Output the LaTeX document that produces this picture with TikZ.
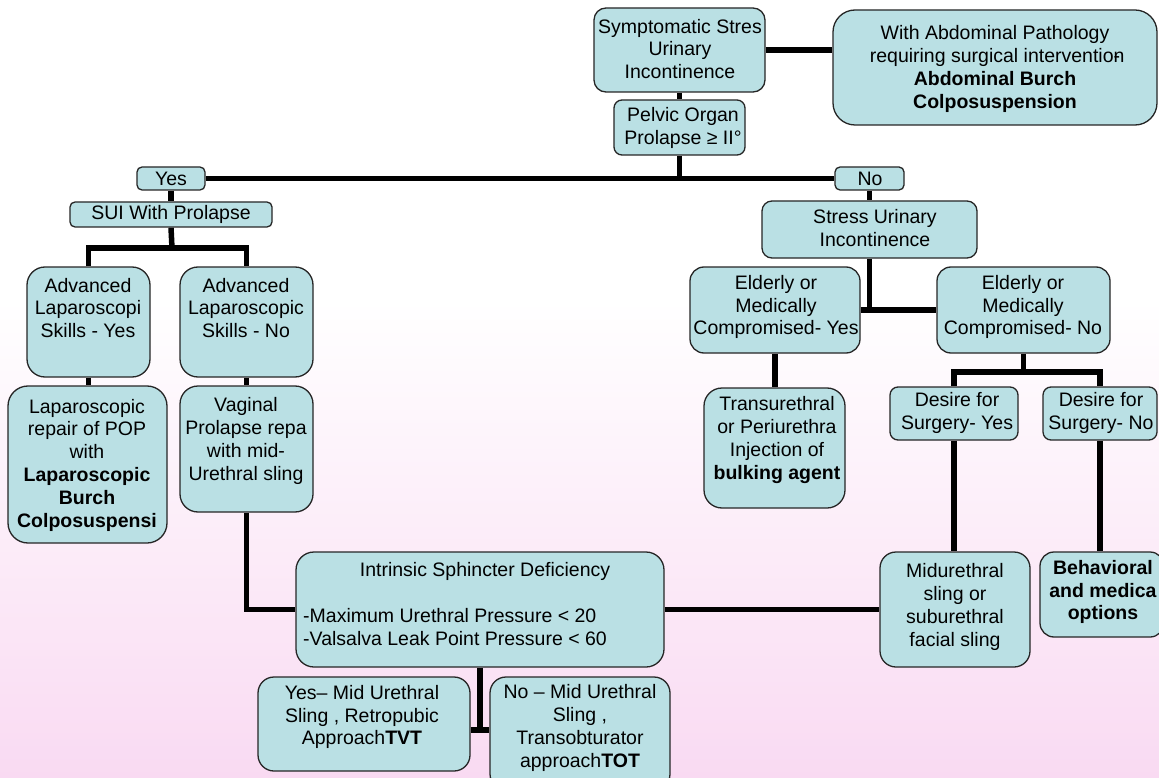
\documentclass[tikz,border=0pt]{standalone}
\usepackage{fontspec}
\setmainfont{Liberation Sans}
\usetikzlibrary{backgrounds}
\definecolor{boxc}{RGB}{186,224,228}
\definecolor{bgpink}{RGB}{249,218,242}
\begin{document}
\begin{tikzpicture}[x=1pt,y=-1pt,
  box/.style={draw=black!85, line width=1.3pt, fill=boxc, rounded corners=#1, inner sep=0pt},
  box/.default=12pt,
  txt/.style={align=center, font=\fontsize{19.5}{22.8}\selectfont, inner sep=0pt},
  conn/.style={line width=5.5pt, draw=black}]
\useasboundingbox (0,0) rectangle (1159,778);
% boxes
\node[box=12pt, minimum width=171pt, minimum height=84pt] (sym) at (679.5,50) {};
\node[box=22pt, minimum width=324pt, minimum height=115pt] (abd) at (995,67.5) {};
\node[box=8pt, minimum width=131pt, minimum height=55pt] (pel) at (679.5,127.5) {};
\node[box=5pt, minimum width=68pt, minimum height=23pt] (yes) at (171,178.5) {};
\node[box=5pt, minimum width=69pt, minimum height=23pt] (no) at (869.5,178.5) {};
\node[box=5pt, minimum width=202pt, minimum height=25pt] (suiL) at (171,214.5) {};
\node[box=18pt, minimum width=123pt, minimum height=110pt] (advY) at (88.5,322) {};
\node[box=18pt, minimum width=133pt, minimum height=110pt] (advN) at (246.5,322) {};
\node[box=20pt, minimum width=159pt, minimum height=157pt] (lap) at (87.5,464.5) {};
\node[box=18pt, minimum width=133pt, minimum height=126pt] (vag) at (246.5,449) {};
\node[box=18pt, minimum width=368pt, minimum height=115pt] (isd) at (480,609.5) {};
\node[box=16pt, minimum width=212pt, minimum height=94pt] (yesT) at (364,724) {};
\node[box=16pt, minimum width=180pt, minimum height=113pt] (noT) at (580,733.5) {};
\node[box=10pt, minimum width=215pt, minimum height=57pt] (suiR) at (869.5,229.5) {};
\node[box=14pt, minimum width=170pt, minimum height=86pt] (eY) at (775,310) {};
\node[box=14pt, minimum width=173pt, minimum height=86pt] (eN) at (1023.5,310) {};
\node[box=18pt, minimum width=141pt, minimum height=120pt] (tr) at (774.5,448) {};
\node[box=8pt, minimum width=128pt, minimum height=53pt] (dY) at (954,413.5) {};
\node[box=8pt, minimum width=114pt, minimum height=53pt] (dN) at (1100,413.5) {};
\node[box=16pt, minimum width=150pt, minimum height=115pt] (mid) at (955,609.5) {};
\node[box=14pt, minimum width=124pt, minimum height=85pt] (beh) at (1102,594.5) {};
% texts
\node[txt] (tsym) at (680,49) {Symptomatic Stres\\Urinary\\Incontinence};
\node[txt] (tabd) at (995,69) {With Abdominal Pathology\\requiring surgical interventio\rlap{n}-\\\textbf{Abdominal Burch}\\\textbf{Colposuspension}};
\node[txt] (tpel) at (683,128) {Pelvic Organ\\Prolapse ≥ II°};
\node[txt] (tyes) at (171,179) {Yes};
\node[txt] (tno) at (870,179) {No};
\node[txt] (tsuiL) at (171,214.5) {SUI With Prolapse};
\node[txt] (tadvY) at (88,308) {Advanced\\Laparoscopi\\Skills - Yes};
\node[txt] (tadvN) at (246,308) {Advanced\\Laparoscopic\\Skills - No};
\node[txt] (tlap) at (87,465) {Laparoscopic\\repair of POP\\with\\\textbf{Laparoscopic}\\\textbf{Burch}\\\textbf{Colposuspensi}};
\node[txt] (tvag) at (246,441) {Vaginal\\Prolapse repa\\with mid-\\Urethral sling};
\node[txt] (tisd1) at (485,571) {Intrinsic Sphincter Deficiency};
\node[txt, align=left, anchor=west] (tisd2) at (303,627) {-Maximum Urethral Pressure < 20\\-Valsalva Leak Point Pressure < 60};
\node[txt] (tyesT) at (362,717) {Yes– Mid Urethral\\Sling , Retropubic\\Approach\textbf{TVT}};
\node[txt] (tnoT) at (580,728) {No – Mid Urethral\\Sling ,\\Transobturator\\approach\textbf{TOT}};
\node[txt] (tsuiR) at (875,228) {Stress Urinary\\Incontinence};
\node[txt] (teY) at (776,307) {Elderly or\\Medically\\Compromised- Yes};
\node[txt] (teN) at (1023,307) {Elderly or\\Medically\\Compromised- No};
\node[txt] (ttr) at (777,440) {Transurethral\\or Periurethra\\Injection of\\\textbf{bulking agent}};
\node[txt] (tdY) at (957,413) {Desire for\\Surgery- Yes};
\node[txt] (tdN) at (1101,413) {Desire for\\Surgery- No};
\node[txt] (tmid) at (955,607) {Midurethral\\sling or\\suburethral\\facial sling};
\node[txt] (tbeh) at (1103,592) {\textbf{Behavioral}\\\textbf{and medica}\\\textbf{options}};
% helper coordinates
\coordinate (bar1) at (172,248);
\coordinate (bar2) at (1023.5,372);
\coordinate (c3) at (480,730);
\begin{pgfonlayer}{background}
\fill[white] (0,0) rectangle (1159,778);
\shade[top color=white, bottom color=bgpink] (0,300) rectangle (1159,778);
\draw[conn] (sym.east) -- (sym.east -| abd.west);
\draw[conn] (sym.south) -- (pel.north);
\draw[conn] (pel.south) -- (pel.south |- yes.east);
\draw[conn] (yes.east) -- (no.west);
\draw[conn] (yes.south) -- (suiL.north);
\draw[conn] (no.south) -- (suiR.north);
\draw[conn] (suiL.south) -- (bar1);
\draw[conn] (advY.north) |- (bar1) -| (advN.north);
\draw[conn] (advY.south) -- (advY.south |- lap.north);
\draw[conn] (advN.south) -- (vag.north);
\draw[conn] (vag.south) |- (isd.west);
\draw[conn] (isd.east) -- (mid.west);
\draw[conn] (isd.south) -- (c3);
\draw[conn] (yesT.east |- c3) -- (noT.west |- c3);
\draw[conn] (suiR.south) -- (suiR.south |- eY.east);
\draw[conn] (eY.east) -- (eN.west);
\draw[conn] (eY.south) -- (eY.south |- tr.north);
\draw[conn] (eN.south) -- (bar2);
\draw[conn] (dY.north) |- (bar2) -| (dN.north);
\draw[conn] (dY.south) -- (dY.south |- mid.north);
\draw[conn] (dN.south) -- (dN.south |- beh.north);
\end{pgfonlayer}
\end{tikzpicture}
\end{document}
